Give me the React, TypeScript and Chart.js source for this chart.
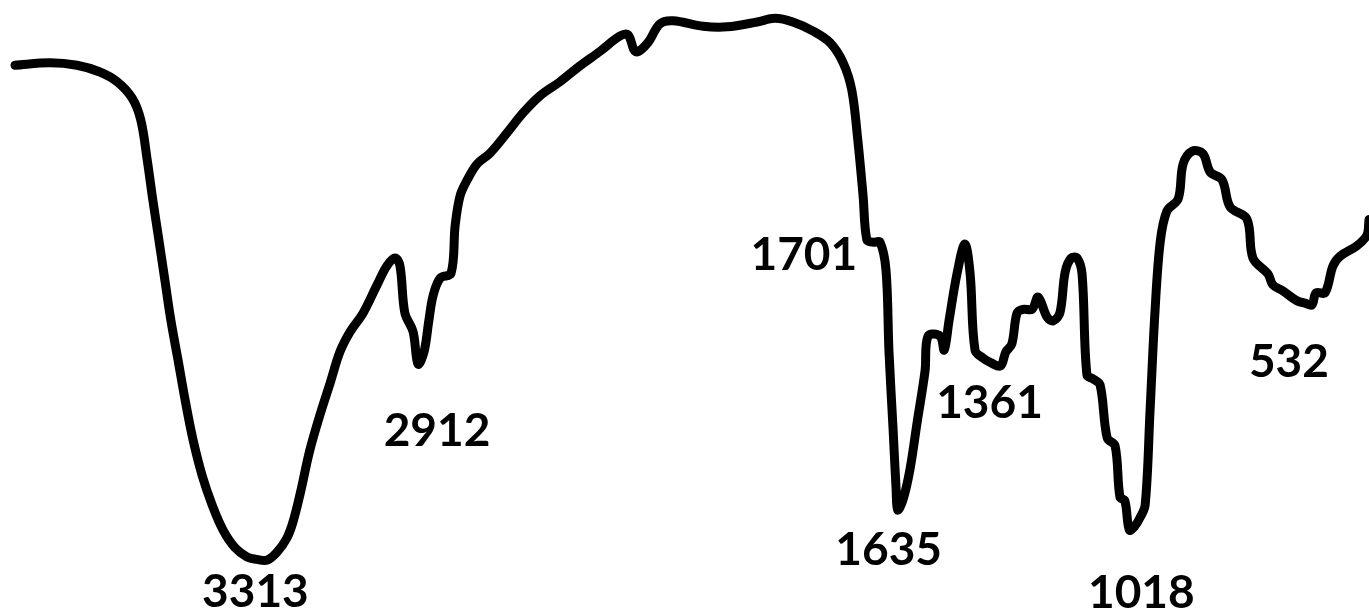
import React, { useEffect, useRef } from "react";
import { Chart, registerables } from "chart.js";

Chart.register(...registerables);

// FTIR spectrum: wavenumber (cm-1) against transmittance (%)
const wavenumbers = [
  3985, 3892, 3820, 3759, 3713, 3673, 3650, 3633, 3618, 3602, 3586, 3570, 3551,
  3532, 3511, 3487, 3460, 3431, 3399, 3367, 3341, 3313, 3287, 3261, 3245, 3226,
  3200, 3173, 3146, 3120, 3093, 3058, 3021, 2995, 2973, 2960, 2947, 2925, 2912,
  2896, 2883, 2872, 2853, 2824, 2813, 2800, 2781, 2755, 2720, 2675, 2632, 2587,
  2534, 2481, 2427, 2374, 2353, 2332, 2300, 2268, 2233, 2153, 2089, 2009, 1962,
  1914, 1860, 1815, 1780, 1757, 1741, 1727, 1717, 1701, 1682, 1666, 1658, 1647,
  1639, 1635, 1621, 1602, 1583, 1562, 1554, 1522, 1511, 1498, 1477, 1456, 1442,
  1429, 1408, 1386, 1361, 1347, 1331, 1317, 1301, 1277, 1261, 1237, 1221, 1203,
  1189, 1173, 1157, 1144, 1131, 1115, 1096, 1077, 1056, 1043, 1030, 1018, 1003,
  990, 976, 963, 950, 936, 918, 888, 875, 851, 822, 803, 771, 750, 705, 689, 649,
  636, 609, 572, 550, 532, 521, 497, 476, 457, 412, 385, 380,
];

const transmittance = [
  89.3, 89.7, 89.3, 88.2, 86.6, 83.9, 80.3, 73.8, 67.2, 60.7, 54.1, 47.5, 41.0,
  34.4, 27.9, 22.1, 17.2, 13.1, 10.2, 8.7, 8.3, 8.2, 9.5, 11.8, 14.4, 19.0,
  26.2, 32.0, 37.2, 42.3, 45.6, 48.7, 53.3, 56.4, 57.7, 56.4, 48.7, 45.6, 40.3,
  42.3, 47.5, 51.5, 54.4, 55.2, 63.1, 67.9, 70.5, 73.1, 74.9, 78.2, 81.5, 84.3,
  86.6, 89.2, 91.6, 94.1, 94.3, 91.5, 93.0, 96.1, 96.6, 95.7, 95.6, 96.4, 97.0,
  96.4, 94.9, 93.0, 89.7, 85.2, 77.0, 67.9, 60.7, 60.3, 60.3, 55.7, 42.3, 29.5,
  19.7, 16.4, 18.0, 23.1, 30.8, 39.2, 44.9, 44.9, 42.6, 47.5, 55.1, 60.0, 55.1,
  42.6, 41.3, 40.5, 40.0, 42.3, 43.6, 48.7, 49.3, 49.3, 51.3, 48.0, 47.4, 48.7,
  55.4, 57.7, 57.7, 55.1, 38.5, 37.9, 36.9, 28.2, 26.9, 18.5, 17.9, 13.1, 13.8,
  15.1, 17.2, 32.6, 48.7, 60.3, 65.4, 67.4, 73.1, 75.2, 74.8, 71.8, 70.5, 66.1,
  64.1, 57.7, 55.1, 53.3, 52.3, 50.7, 50.3, 50.0, 52.0, 52.0, 56.4, 58.0, 59.7,
  61.5, 64.0,
];

// Annotated band positions (cm-1)
const peakLabels = [3313, 2912, 1701, 1635, 1361, 1018, 532];

// Where each annotation's text sits, relative to its band: [dx, baseline dy] in px
const labelOffsets = [
  [-12, 47],
  [19, 82],
  [-69, 28],
  [-9, 55],
  [-11, 52],
  [12, 78],
  [-23, 72],
];

const peakLabelPlugin = {
  id: "peakLabels",
  afterDatasetsDraw(chart: any) {
    const { ctx, scales } = chart;
    ctx.save();
    ctx.fillStyle = "#000000";
    ctx.font = "bold 46px Lato, 'Noto Sans', sans-serif";
    ctx.textAlign = "center";
    ctx.textBaseline = "alphabetic";
    peakLabels.forEach((wn, i) => {
      const idx = wavenumbers.indexOf(wn);
      if (idx < 0) return;
      const x = scales.x.getPixelForValue(wn);
      const y = scales.y.getPixelForValue(transmittance[idx]);
      const [dx, dy] = labelOffsets[i];
      ctx.fillText(String(wn), x + dx, y + dy);
    });
    ctx.restore();
  },
};

export default function App() {
  const canvasRef = useRef<HTMLCanvasElement | null>(null);

  useEffect(() => {
    if (!canvasRef.current) return;
    const chart = new Chart(canvasRef.current, {
      type: "line",
      data: {
        datasets: [
          {
            data: wavenumbers.map((x, i) => ({ x, y: transmittance[i] })),
            borderColor: "#000000",
            borderWidth: 9,
            borderJoinStyle: "round",
            borderCapStyle: "round",
            pointRadius: 0,
            tension: 0.35,
            fill: false,
            clip: false,
          } as any,
        ],
      },
      options: {
        animation: false,
        responsive: true,
        maintainAspectRatio: false,
        layout: { padding: { left: 15, right: 0, top: 0, bottom: 0 } },
        plugins: {
          legend: { display: false },
          tooltip: { enabled: false },
          title: { display: false },
        },
        scales: {
          x: { type: "linear", min: 380, max: 3985, reverse: true, display: false },
          y: { type: "linear", min: 0, max: 100, display: false },
        },
      },
      plugins: [peakLabelPlugin],
    });
    return () => chart.destroy();
  }, []);

  return (
    <div
      style={{
        position: "absolute",
        left: 0,
        top: 0,
        width: 1369,
        height: 610,
        background: "#ffffff",
      }}
    >
      <canvas ref={canvasRef} />
    </div>
  );
}
